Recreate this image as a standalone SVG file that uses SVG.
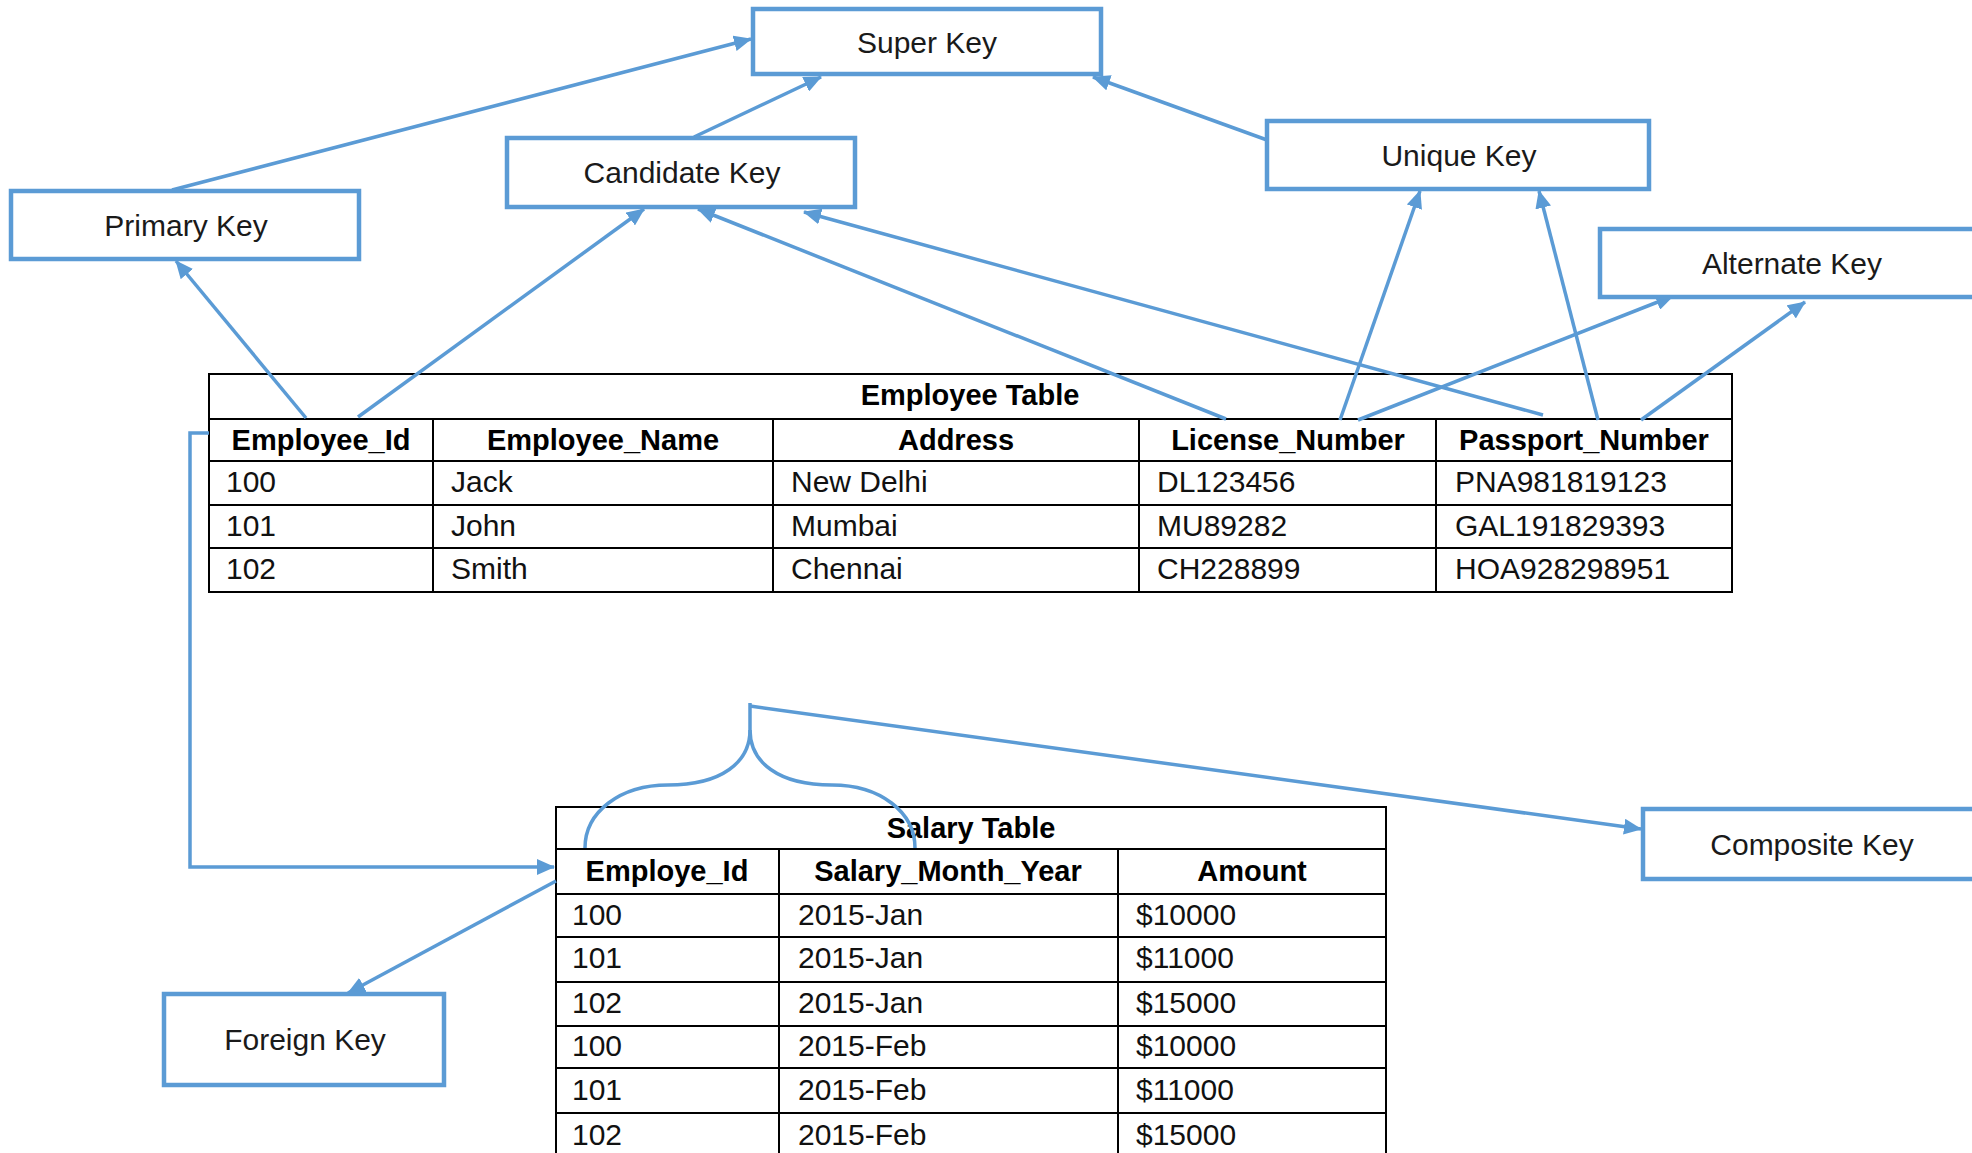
<svg xmlns="http://www.w3.org/2000/svg" width="1972" height="1153" viewBox="0 0 1972 1153">
<style>
.box{fill:#fff;stroke:#5B9BD5;stroke-width:4.5}
.lbl{font-family:"Liberation Sans",Arial,sans-serif;font-size:30px;fill:#1a1a1a;text-anchor:middle}
.con{fill:none;stroke:#5B9BD5;stroke-width:3.5}
.grid{fill:none;stroke:#000;stroke-width:2}
.td{font-family:"Liberation Sans",Arial,sans-serif;font-size:30px;fill:#111}
.th{font-family:"Liberation Sans",Arial,sans-serif;font-size:29px;font-weight:bold;fill:#000;text-anchor:middle}
</style>
<defs>
<marker id="ah" markerUnits="userSpaceOnUse" markerWidth="18" markerHeight="16" refX="17" refY="8" orient="auto">
<path d="M0,0 L18,8 L0,16 z" fill="#5B9BD5"/>
</marker>
</defs>
<rect width="1972" height="1153" fill="#fff"/>

<g id="employee-table">
<rect class="grid" x="209" y="374" width="1523" height="218"/>
<path class="grid" d="M209,419H1732M209,461H1732M209,505H1732M209,548H1732M433,419V592M773,419V592M1139,419V592M1436,419V592"/>
<text class="th" x="970" y="405">Employee Table</text>
<text class="th" x="321" y="450">Employee_Id</text>
<text class="th" x="603" y="450">Employee_Name</text>
<text class="th" x="956" y="450">Address</text>
<text class="th" x="1288" y="450">License_Number</text>
<text class="th" x="1584" y="450">Passport_Number</text>
<text class="td" x="226" y="492">100</text>
<text class="td" x="451" y="492">Jack</text>
<text class="td" x="791" y="492">New Delhi</text>
<text class="td" x="1157" y="492">DL123456</text>
<text class="td" x="1455" y="492">PNA981819123</text>
<text class="td" x="226" y="536">101</text>
<text class="td" x="451" y="536">John</text>
<text class="td" x="791" y="536">Mumbai</text>
<text class="td" x="1157" y="536">MU89282</text>
<text class="td" x="1455" y="536">GAL191829393</text>
<text class="td" x="226" y="579">102</text>
<text class="td" x="451" y="579">Smith</text>
<text class="td" x="791" y="579">Chennai</text>
<text class="td" x="1157" y="579">CH228899</text>
<text class="td" x="1455" y="579">HOA928298951</text>
</g>

<g id="salary-table">
<rect class="grid" x="556" y="807" width="830" height="351"/>
<path class="grid" d="M556,849H1386M556,894H1386M556,937H1386M556,982H1386M556,1026H1386M556,1068H1386M556,1113H1386M779,849V1158M1118,849V1158"/>
<text class="th" x="971" y="838">Salary Table</text>
<text class="th" x="667" y="881">Employe_Id</text>
<text class="th" x="948" y="881">Salary_Month_Year</text>
<text class="th" x="1252" y="881">Amount</text>
<text class="td" x="572" y="925">100</text>
<text class="td" x="798" y="925">2015-Jan</text>
<text class="td" x="1136" y="925">$10000</text>
<text class="td" x="572" y="968">101</text>
<text class="td" x="798" y="968">2015-Jan</text>
<text class="td" x="1136" y="968">$11000</text>
<text class="td" x="572" y="1013">102</text>
<text class="td" x="798" y="1013">2015-Jan</text>
<text class="td" x="1136" y="1013">$15000</text>
<text class="td" x="572" y="1056">100</text>
<text class="td" x="798" y="1056">2015-Feb</text>
<text class="td" x="1136" y="1056">$10000</text>
<text class="td" x="572" y="1100">101</text>
<text class="td" x="798" y="1100">2015-Feb</text>
<text class="td" x="1136" y="1100">$11000</text>
<text class="td" x="572" y="1145">102</text>
<text class="td" x="798" y="1145">2015-Feb</text>
<text class="td" x="1136" y="1145">$15000</text>
</g>

<g id="connectors">
<line class="con" x1="172" y1="190" x2="751" y2="39" marker-end="url(#ah)"/>
<line class="con" x1="694" y1="137" x2="821" y2="77" marker-end="url(#ah)"/>
<line class="con" x1="1267" y1="140" x2="1093" y2="77" marker-end="url(#ah)"/>
<line class="con" x1="306" y1="418" x2="176" y2="261" marker-end="url(#ah)"/>
<line class="con" x1="358" y1="417" x2="644" y2="209" marker-end="url(#ah)"/>
<line class="con" x1="1226" y1="419" x2="698" y2="209" marker-end="url(#ah)"/>
<line class="con" x1="1543" y1="415" x2="804" y2="212" marker-end="url(#ah)"/>
<line class="con" x1="1340" y1="420" x2="1420" y2="191" marker-end="url(#ah)"/>
<line class="con" x1="1358" y1="420" x2="1673" y2="296" marker-end="url(#ah)"/>
<line class="con" x1="1598" y1="420" x2="1539" y2="191" marker-end="url(#ah)"/>
<line class="con" x1="1641" y1="420" x2="1805" y2="302" marker-end="url(#ah)"/>
<polyline class="con" points="209,433 190,433 190,867 554,867" marker-end="url(#ah)"/>
<line class="con" x1="556" y1="881" x2="348" y2="993" marker-end="url(#ah)"/>
<path class="con" d="M750,703 L750,730 C750,762 722,785 668,785 C620,785 585,812 585,848"/>
<path class="con" d="M750,730 C750,762 778,785 832,785 C880,785 915,812 915,848"/>
<line class="con" x1="750" y1="706" x2="1641" y2="829" marker-end="url(#ah)"/>
</g>

<g id="super-key"><rect class="box" x="753" y="9" width="348" height="65"/><text class="lbl" x="927" y="53">Super Key</text></g>
<g id="candidate-key"><rect class="box" x="507" y="138" width="348" height="69"/><text class="lbl" x="682" y="183">Candidate Key</text></g>
<g id="primary-key"><rect class="box" x="11" y="191" width="348" height="68"/><text class="lbl" x="186" y="236">Primary Key</text></g>
<g id="unique-key"><rect class="box" x="1267" y="121" width="382" height="68"/><text class="lbl" x="1459" y="166">Unique Key</text></g>
<g id="alternate-key"><rect class="box" x="1600" y="229" width="400" height="68"/><text class="lbl" x="1792" y="274">Alternate Key</text></g>
<g id="foreign-key"><rect class="box" x="164" y="994" width="280" height="91"/><text class="lbl" x="305" y="1050">Foreign Key</text></g>
<g id="composite-key"><rect class="box" x="1643" y="809" width="360" height="70"/><text class="lbl" x="1812" y="855">Composite Key</text></g>
</svg>
